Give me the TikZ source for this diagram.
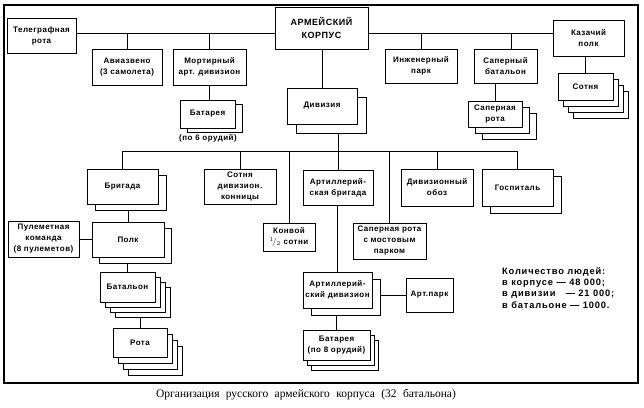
\documentclass[tikz,border=0pt]{standalone}
\usepackage{fontspec}
\setmainfont{Liberation Serif}
\newfontfamily\bxfont{Liberation Sans}[LetterSpace=6]
\newfontfamily\infofont{Liberation Sans}[LetterSpace=9]
\usetikzlibrary{calc}
\tikzset{
  box/.style={draw, line width=1.0pt, fill=white, inner sep=1pt, align=center,
    font=\bxfont\bfseries\fontsize{8}{11}\selectfont},
  conn/.style={line width=1.0pt},
  frame/.style={line width=1.3pt},
}
% name, x1, y1, x2, y2, text, copies behind, dx, dy
\newcommand\mkbox[9]{%
  \pgfmathsetmacro\bw{#4-#2}%
  \pgfmathsetmacro\bh{#5-#3}%
  \pgfmathsetmacro\cx{(#2+#4)/2}%
  \pgfmathsetmacro\cy{(#3+#5)/2}%
  \ifnum#7>0
    \foreach \k in {#7,...,1}{%
      \node[box, minimum width=\bw pt, minimum height=\bh pt] (#1-s\k) at (\cx+\k*#8,\cy+\k*#9) {};
    }%
  \fi
  \node[box, minimum width=\bw pt, minimum height=\bh pt] (#1) at (\cx,\cy) {#6};
}
\begin{document}
\begin{tikzpicture}[x=1pt,y=-1pt]
\useasboundingbox (0,0) rectangle (644,407);
\draw[frame] (4,5) rectangle (638,383);

% corps level
\mkbox{tel}{7}{18}{76}{53}{Телеграфная\\рота}{0}{0}{0}
\node[box, minimum width=93pt, minimum height=42pt, font=\bxfont\bfseries\fontsize{9}{13}\selectfont] (corps) at (321.5,28) {АРМЕЙСКИЙ\\КОРПУС};
\mkbox{avia}{92}{49}{162}{85}{Авиазвено\\(3 самолета)}{0}{0}{0}
\mkbox{mort}{173}{49}{246}{85}{Мортирный\\арт. дивизион}{0}{0}{0}
\mkbox{bat6}{180}{100}{235}{128}{Батарея}{1}{7}{4}
\node[font=\bxfont\bfseries\fontsize{8}{10}\selectfont, inner sep=0pt] (bat6lbl) at (208,138) {(по 6 орудий)};
\mkbox{div}{287}{88}{357}{124}{Дивизия}{1}{9}{9}
\mkbox{inzh}{385}{49}{457}{83}{Инженерный\\парк}{0}{0}{0}
\mkbox{sapbat}{474}{49}{537}{83}{Саперный\\батальон}{0}{0}{0}
\mkbox{saprota}{468}{101}{522}{127}{Саперная\\рота}{2}{7}{6}
\mkbox{kaz}{553}{20}{624}{56}{Казачий\\полк}{0}{0}{0}
\mkbox{sotn}{558}{73}{613}{100}{Сотня}{3}{5}{6}

% division level
\mkbox{brig}{87}{169}{158}{204}{Бригада}{1}{8}{6}
\mkbox{sotd}{204}{169}{276}{204}{Сотня\\дивизион.\\конницы}{0}{0}{0}
\mkbox{konv}{263}{223}{315}{251}{Конвой\\$^1\!/_2$ сотни}{0}{0}{0}
\mkbox{artbrig}{303}{170}{373}{205}{Артиллерий-\\ская бригада}{0}{0}{0}
\mkbox{saprm}{353}{223}{426}{259}{Саперная рота\\с мостовым\\парком}{0}{0}{0}
\mkbox{oboz}{401}{169}{473}{206}{Дивизионный\\обоз}{0}{0}{0}
\mkbox{gosp}{482}{169}{553}{206}{Госпиталь}{1}{8}{7}

\mkbox{pulem}{8}{221}{79}{257}{Пулеметная\\команда\\(8 пулеметов)}{0}{0}{0}
\mkbox{polk}{92}{222}{164}{257}{Полк}{1}{7}{6}
\mkbox{batal}{100}{272}{155}{302}{Батальон}{3}{5}{5}
\mkbox{rota}{113}{328}{167}{357}{Рота}{3}{5}{6}

\mkbox{artdiv}{303}{272}{372}{308}{Артиллерий-\\ский дивизион}{1}{8}{7}
\mkbox{artpark}{406}{278}{453}{312}{Арт.парк}{0}{0}{0}
\mkbox{bat8}{303}{330}{370}{360}{Батарея\\(по 8 орудий)}{2}{4}{5}

% connectors
\coordinate (cb) at (0,33);
\coordinate (db) at (0,151);
\draw[conn] (tel.east |- cb) -- (corps.west |- cb);
\draw[conn] (corps.east |- cb) -- (kaz.west |- cb);
\draw[conn] (avia.north) -- (avia.north |- cb);
\draw[conn] (mort.north) -- (mort.north |- cb);
\draw[conn] (inzh.north) -- (inzh.north |- cb);
\draw[conn] ($(sapbat.north)+(6,0)$) -- ($(sapbat.north |- cb)+(6,0)$);
\draw[conn] (mort.south) -- (mort.south |- bat6.north);
\draw[conn] (div.north) -- (div.north |- corps.south);
\draw[conn] (saprota.north) -- (saprota.north |- sapbat.south);
\draw[conn] (sotn.north) -- (sotn.north |- kaz.south);

\draw[conn] (brig.north) -- (brig.north |- db) -- (gosp.north |- db) -- (gosp.north);
\draw[conn] (sotd.north) -- (sotd.north |- db);
\draw[conn] (konv.north) -- (konv.north |- db);
\draw[conn] (artbrig.north) -- (artbrig.north |- div-s1.south);
\draw[conn] (saprm.north) -- (saprm.north |- db);
\draw[conn] (oboz.north) -- (oboz.north |- db);

\draw[conn] (polk.north) -- (polk.north |- brig-s1.south);
\draw[conn] (pulem.east) -- (pulem.east -| polk.west);
\draw[conn] (batal.north) -- (batal.north |- polk-s1.south);
\draw[conn] (rota.north) -- (rota.north |- batal-s3.south);

\draw[conn] (artdiv.north) -- (artdiv.north |- artbrig.south);
\draw[conn] (artdiv-s1.east |- artpark.west) -- (artpark.west);
\draw[conn] (bat8.north) -- (bat8.north |- artdiv-s1.south);

% info text
\node[anchor=north west, align=left, inner sep=0pt,
  font=\infofont\bfseries\fontsize{9.3}{11.3}\selectfont] (info) at (502,267)
  {Количество людей:\\в корпусе — 48 000;\\в дивизии\ \ \ — 21 000;\\в батальоне — 1000.};

% caption
\node[font=\fontsize{11.5}{13}\selectfont, inner sep=0pt] (cap) at (306,395)
  {\spaceskip=0.55em Организация русского армейского корпуса (32 батальона)};
\end{tikzpicture}
\end{document}
